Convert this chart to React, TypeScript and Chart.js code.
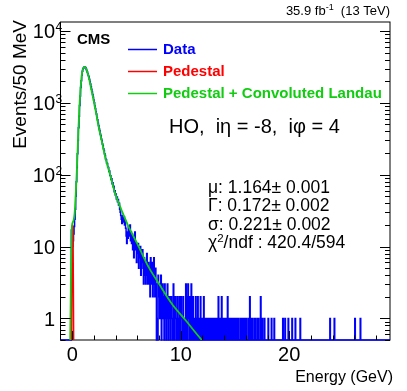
import React, { useEffect, useRef } from "react";
import { Chart, registerables } from "chart.js";

Chart.register(...registerables);

// ---------------- data ----------------
const xMin = -1.1;
const xMax = 29.3;
const yMin = 0.5;
const yMax = 13490;

const binStart = -0.25; // low edge of first listed bin (GeV)
const binWidth = 0.05; // 50 MeV bins

// Events per 50 MeV bin, one row per GeV
const dataCounts: number[] = [
  // -0.25 .. 0.00
  0, 0, 0, 17, 19,
  // 0 .. 1
  10, 12, 15, 19, 24, 33, 50, 80, 125, 195, 300, 450, 650, 920, 1250, 1640, 2040, 2430, 2760, 2990,
  // 1 .. 2
  3050, 3130, 3170, 3150, 3080, 2960, 2830, 2680, 2540, 2410, 2290, 2140, 1980, 1830, 1680, 1550, 1420, 1310, 1200, 1100,
  // 2 .. 3
  1005, 905, 838, 752, 700, 625, 582, 520, 484, 436, 412, 370, 352, 314, 300, 268, 256, 229, 218, 196,
  // 3 .. 4
  185, 166, 161, 144, 143, 128, 126, 111, 113, 98, 97, 86, 88, 75, 77, 68, 69, 58, 60, 52,
  // 4 .. 5
  54, 46, 49, 42, 45, 38, 40, 33, 30, 27, 24, 21, 25, 27, 22, 26, 20, 23, 18, 14,
  // 5 .. 6
  11, 16, 13, 19, 17, 14, 20, 12, 16, 11, 15, 9, 13, 7, 12, 16, 9, 11, 6, 10,
  // 6 .. 7
  8, 11, 5, 9, 7, 10, 4, 8, 6, 9, 5, 3, 7, 4, 6, 3, 5, 8, 4, 3,
  // 7 .. 8
  6, 3, 5, 2, 7, 4, 3, 6, 2, 4, 7, 3, 2, 5, 3, 0, 1, 0, 4, 2,
  // 8 .. 9
  3, 1, 2, 4, 0, 2, 3, 1, 2, 0, 3, 1, 2, 0, 1, 3, 2, 0, 1, 2,
  // 9 .. 10
  1, 0, 2, 1, 1, 0, 3, 1, 0, 2, 1, 1, 0, 2, 1, 0, 1, 2, 0, 1,
  // 10 .. 11
  2, 1, 0, 1, 2, 0, 1, 1, 0, 3, 2, 0, 1, 3, 1, 0, 2, 1, 0, 3,
  // 11 .. 12
  1, 0, 2, 0, 1, 1, 0, 2, 0, 1, 0, 2, 1, 0, 1, 0, 2, 0, 1, 0,
  // 12 .. 13
  1, 0, 2, 1, 0, 0, 1, 1, 0, 1, 0, 0, 1, 0, 1, 0, 0, 1, 0, 1,
  // 13 .. 14
  0, 1, 0, 1, 0, 0, 1, 0, 1, 2, 0, 1, 0, 0, 1, 2, 0, 0, 1, 0,
  // 14 .. 15
  1, 0, 0, 1, 0, 0, 2, 0, 0, 1, 0, 1, 0, 0, 1, 0, 0, 1, 0, 1,
  // 15 .. 16
  0, 1, 0, 0, 1, 0, 1, 0, 0, 0, 1, 0, 1, 0, 0, 1, 0, 0, 1, 0,
  // 16 .. 17
  0, 1, 0, 0, 0, 1, 0, 2, 0, 1, 0, 0, 1, 0, 0, 0, 1, 0, 1, 0,
  // 17 .. 18
  0, 0, 1, 0, 0, 0, 1, 2, 0, 0, 1, 0, 0, 0, 1, 0, 0, 0, 0, 0,
  // 18 .. 19
  0, 1, 0, 0, 0, 0, 0, 1, 0, 0, 0, 0, 1, 0, 0, 0, 0, 0, 0, 0,
  // 19 .. 20
  0, 0, 0, 0, 0, 0, 0, 0, 1, 0, 0, 0, 1, 0, 0, 0, 0, 0, 1, 0,
  // 20 .. 21
  0, 0, 0, 0, 0, 1, 0, 0, 0, 0, 0, 1, 0, 0, 0, 0, 0, 0, 0, 0,
  // 21 .. 22
  1, 0, 0, 0, 0, 0, 0, 0, 0, 0, 0, 0, 0, 0, 0, 0, 0, 0, 0, 0,
  // 22 .. 23
  0, 0, 0, 0, 0, 0, 0, 0, 0, 0, 0, 0, 0, 0, 0, 0, 0, 0, 0, 0,
  // 23 .. 24
  0, 0, 0, 0, 0, 0, 0, 0, 0, 0, 0, 0, 0, 0, 0, 1, 0, 0, 0, 0,
  // 24 .. 25
  0, 0, 0, 1, 0, 0, 0, 0, 0, 0, 0, 0, 0, 0, 0, 0, 0, 0, 0, 0,
  // 25 .. 26
  0, 0, 0, 0, 0, 0, 0, 0, 0, 0, 0, 0, 0, 0, 0, 0, 0, 0, 0, 0,
  // 26 .. 27
  0, 1, 0, 0, 0, 0, 0, 0, 0, 0, 0, 1, 0, 0, 0, 0, 0, 0, 0, 0,
];

// Pedestal (red) curve
const pedEnergy = [-0.08, -0.02, 0.02, 0.06, 0.12];
const pedValue = [0.3, 14, 20, 14, 0.3];

// Pedestal + convoluted Landau fit (green)
const fitEnergy = [-0.22, -0.05, 0.05, 0.2, 0.3, 0.41, 0.55, 0.72, 0.85, 0.94, 1.05, 1.18, 1.3, 1.49, 1.7, 1.95, 2.2, 2.41, 2.7, 3.02, 3.4, 3.94, 4.5, 5.18, 6.0, 7.02, 8.0, 9.17, 10.5, 11.94, 12.6];
const fitValue = [0.35, 19, 22, 29, 50, 117, 420, 1380, 2300, 2880, 3120, 3160, 2900, 2340, 1650, 1100, 700, 470, 300, 178, 110, 55, 33, 19, 10.8, 5.2, 3.0, 1.6, 0.92, 0.5, 0.4];

const xTickValues = [0, 10, 20];
const xTickLabels = ["0", "10", "20"];
const yTickValues = [1, 10, 100, 1000, 10000];
const yTickBase = ["1", "10", "10", "10", "10"];
const yTickExp = ["", "", "2", "3", "4"];

const legendLabels = ["Data", "Pedestal", "Pedestal + Convoluted Landau"];
const channelLabel = "HO,  iη = -8,  iφ = 4";
const fitLines: [string, string, string][] = [
  ["μ: 1.164± 0.001", "", ""],
  ["Γ: 0.172± 0.002", "", ""],
  ["σ: 0.221± 0.002", "", ""],
  ["χ", "2", "/ndf : 420.4/594"],
];

const BLUE = "#0000ff";
const RED = "#ff0000";
const GREEN = "#12cc12";
const FONT = '"Liberation Sans", Arial, Helvetica, sans-serif';

function rootPlugin() {
  return {
    id: "rootStyle",
    beforeDatasetsDraw(chart: any) {
      const { ctx, chartArea } = chart;
      const { left, right, top, bottom } = chartArea;
      ctx.save();
      ctx.strokeStyle = "#000";
      ctx.lineWidth = 1;
      ctx.strokeRect(left, top + 0.3, right - left, bottom - top - 0.3);
      ctx.restore();
    },
    afterDraw(chart: any) {
      const { ctx, chartArea } = chart;
      const { left, right, top, bottom } = chartArea;
      const xs = chart.scales.x;
      const ys = chart.scales.y;
      ctx.save();
      ctx.strokeStyle = "#000";
      ctx.lineWidth = 1;
      // x ticks (inside, bottom)
      for (let v = 0; v <= xMax; v += 2) {
        const px = Math.round(xs.getPixelForValue(v)) + 0.5;
        const len = v % 10 === 0 ? 9 : 4.5;
        ctx.beginPath();
        ctx.moveTo(px, bottom);
        ctx.lineTo(px, bottom - len);
        ctx.stroke();
      }
      // y ticks (inside, left and right)
      for (let k = -1; k <= 4; k++) {
        for (let m = 1; m <= 9; m++) {
          const v = m * Math.pow(10, k);
          if (v < yMin || v > yMax) continue;
          const py = Math.round(ys.getPixelForValue(v)) + 0.5;
          const len = m === 1 ? 10 : 5;
          ctx.beginPath();
          ctx.moveTo(left, py);
          ctx.lineTo(left + len, py);
          ctx.moveTo(right, py);
          ctx.lineTo(right - len, py);
          ctx.stroke();
        }
      }
      ctx.fillStyle = "#000";
      // x labels
      ctx.font = `20px ${FONT}`;
      ctx.textAlign = "center";
      ctx.textBaseline = "alphabetic";
      xTickValues.forEach((v, i) => {
        ctx.fillText(xTickLabels[i], xs.getPixelForValue(v), 361);
      });
      // y labels
      yTickValues.forEach((v, i) => {
        const py = ys.getPixelForValue(v);
        ctx.font = `20px ${FONT}`;
        ctx.textAlign = "right";
        ctx.fillText(yTickBase[i], 55, py + 7.2);
        if (yTickExp[i]) {
          ctx.font = `12px ${FONT}`;
          ctx.textAlign = "left";
          ctx.fillText(yTickExp[i], 55.5, py + 0.3);
        }
      });
      // axis titles
      ctx.font = `16px ${FONT}`;
      ctx.textAlign = "right";
      ctx.fillText("Energy (GeV)", 393, 382);
      ctx.save();
      ctx.translate(26, 20);
      ctx.rotate(-Math.PI / 2);
      ctx.font = `19px ${FONT}`;
      ctx.textAlign = "right";
      ctx.fillText("Events/50 MeV", 0, 0);
      ctx.restore();
      // lumi
      ctx.textAlign = "left";
      const p1 = "35.9 fb";
      const p3 = "  (13 TeV)";
      ctx.font = `13px ${FONT}`;
      const w1 = ctx.measureText(p1).width;
      const w3 = ctx.measureText(p3).width;
      ctx.font = `9px ${FONT}`;
      const w2 = ctx.measureText("-1").width;
      const x0 = 390 - (w1 + w2 + w3);
      ctx.font = `13px ${FONT}`;
      ctx.fillText(p1, x0, 15);
      ctx.font = `9px ${FONT}`;
      ctx.fillText("-1", x0 + w1, 10);
      ctx.font = `13px ${FONT}`;
      ctx.fillText(p3, x0 + w1 + w2, 15);
      // CMS
      ctx.font = `bold 15px ${FONT}`;
      ctx.fillText("CMS", 77, 44);
      // legend
      const colors = [BLUE, RED, GREEN];
      const ly = [49.5, 71.5, 93.5];
      legendLabels.forEach((lab, i) => {
        ctx.strokeStyle = colors[i];
        ctx.lineWidth = 1.5;
        ctx.beginPath();
        ctx.moveTo(128, ly[i]);
        ctx.lineTo(157, ly[i]);
        ctx.stroke();
        ctx.fillStyle = colors[i];
        ctx.font = `bold 15px ${FONT}`;
        ctx.textBaseline = "middle";
        ctx.fillText(lab, 163, ly[i] + 0.5);
      });
      ctx.textBaseline = "alphabetic";
      ctx.fillStyle = "#000";
      // channel label
      ctx.font = `20px ${FONT}`;
      ctx.fillText(channelLabel, 169, 133);
      // fit results
      const baselines = [192.5, 211, 229.5, 248];
      fitLines.forEach((parts, i) => {
        let x = 208;
        ctx.font = `17.5px ${FONT}`;
        ctx.fillText(parts[0], x, baselines[i]);
        x += ctx.measureText(parts[0]).width;
        if (parts[1]) {
          ctx.font = `11.5px ${FONT}`;
          ctx.fillText(parts[1], x, baselines[i] - 6.5);
          x += ctx.measureText(parts[1]).width;
        }
        if (parts[2]) {
          ctx.font = `17.5px ${FONT}`;
          ctx.fillText(parts[2], x, baselines[i]);
        }
      });
      ctx.restore();
    },
  };
}

export default function App() {
  const ref = useRef<HTMLCanvasElement>(null);
  useEffect(() => {
    const canvas = ref.current;
    if (!canvas) return;
    const histPts: { x: number; y: number }[] = [{ x: xMin, y: yMin }];
    dataCounts.forEach((c, i) => {
      histPts.push({ x: binStart + i * binWidth, y: c > 0 ? c : yMin });
    });
    histPts.push({ x: binStart + dataCounts.length * binWidth, y: yMin });
    histPts.push({ x: xMax, y: yMin });
    const pedPts = pedEnergy.map((e, i) => ({ x: e, y: pedValue[i] }));
    const fitPts = fitEnergy.map((e, i) => ({ x: e, y: fitValue[i] }));

    const chart = new Chart(canvas, {
      type: "line",
      data: {
        datasets: [
          {
            label: legendLabels[0],
            data: histPts,
            borderColor: BLUE,
            borderWidth: 1.5,
            stepped: true,
            pointRadius: 0,
            fill: false,
            clip: false as any,
            order: 3,
          },
          {
            label: legendLabels[1],
            data: pedPts,
            borderColor: RED,
            borderWidth: 1.5,
            pointRadius: 0,
            fill: false,
            cubicInterpolationMode: "monotone",
            order: 2,
          },
          {
            label: legendLabels[2],
            data: fitPts,
            borderColor: GREEN,
            borderWidth: 1.8,
            pointRadius: 0,
            fill: false,
            cubicInterpolationMode: "monotone",
            order: 1,
          },
        ],
      } as any,
      options: {
        responsive: false,
        animation: false,
        devicePixelRatio: 1,
        layout: { padding: { left: 60.5, right: 17, top: 21.7, bottom: 51 } },
        plugins: { legend: { display: false }, tooltip: { enabled: false } },
        events: [],
        scales: {
          x: { type: "linear", min: xMin, max: xMax, display: false },
          y: { type: "logarithmic", min: yMin, max: yMax, display: false },
        },
      } as any,
      plugins: [rootPlugin()],
    });
    return () => chart.destroy();
  }, []);
  return (
    <div style={{ position: "absolute", left: 0, top: 0, width: 407, height: 391, background: "#fff" }}>
      <canvas ref={ref} width={407} height={391} style={{ display: "block" }} />
    </div>
  );
}
